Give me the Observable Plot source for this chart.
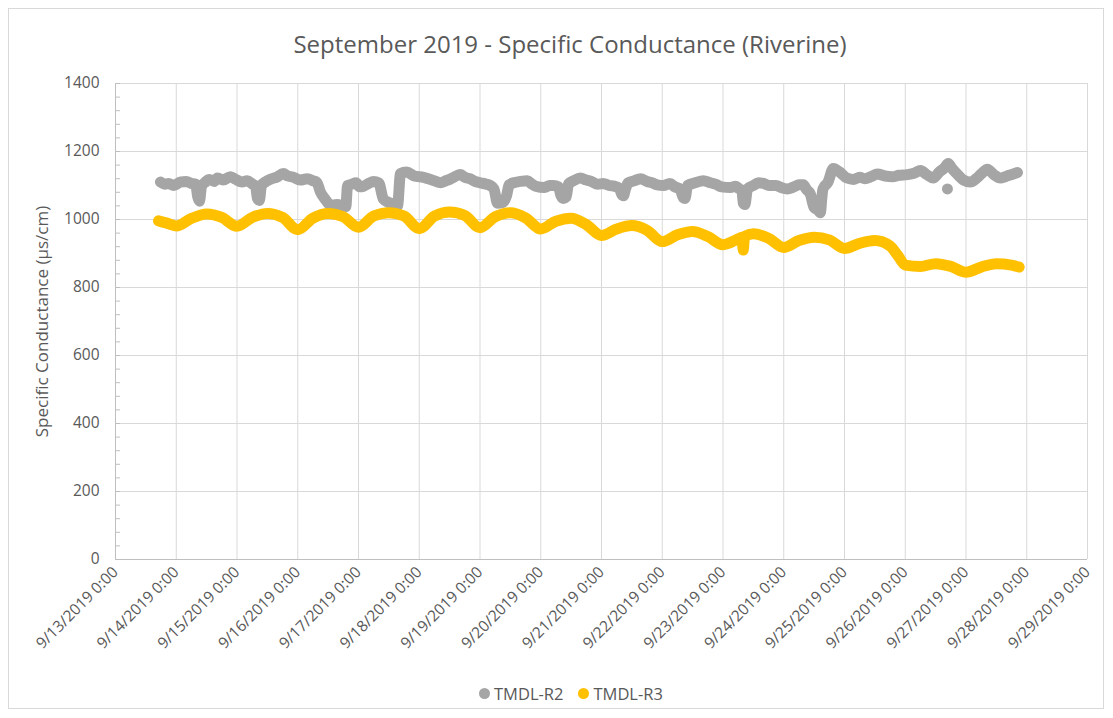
<!DOCTYPE html>
<html>
<head>
<meta charset="utf-8">
<script src="https://cdn.jsdelivr.net/npm/d3@7"></script>
<script src="https://cdn.jsdelivr.net/npm/@observablehq/plot@0.6"></script>
<style>
  body { margin: 0; background: #fff; font-family: "Open Sans", sans-serif; }
  #frame { position: absolute; left: 8px; top: 8px; width: 1096px; height: 701px; border: 1px solid #d9d9d9; box-sizing: border-box; }
  #title { position: absolute; left: 0; width: 1140px; top: 27px; text-align: center; font-size: 24px; color: #595959; }
  #chart { position: absolute; left: 0; top: 0; }
  #legend { position: absolute; left: 479px; top: 682px; display: flex; align-items: center; font-size: 16.5px; color: #595959; }
  #legend .item { display: flex; align-items: center; margin-right: 15px; }
  #legend .sw { width: 11px; height: 11px; border-radius: 50%; margin-right: 4px; }
</style>
</head>
<body>
<div id="frame"></div>
<div id="title">September 2019 - Specific Conductance (Riverine)</div>
<div id="chart"></div>
<div id="legend"></div>
<script>
const seriesNames = ["TMDL-R2", "TMDL-R3"];
const seriesColors = ["#a5a5a5", "#ffc000"];
const yLabel = "Specific Conductance (µs/cm)";
const yTicks = [0, 200, 400, 600, 800, 1000, 1200, 1400];
const xTickLabels = ["9/13/2019 0:00","9/14/2019 0:00","9/15/2019 0:00","9/16/2019 0:00","9/17/2019 0:00","9/18/2019 0:00","9/19/2019 0:00","9/20/2019 0:00","9/21/2019 0:00","9/22/2019 0:00","9/23/2019 0:00","9/24/2019 0:00","9/25/2019 0:00","9/26/2019 0:00","9/27/2019 0:00","9/28/2019 0:00","9/29/2019 0:00"];

const r2Times = ["2019-09-13T17:45","2019-09-13T19:30","2019-09-13T21:00","2019-09-13T23:00","2019-09-14T01:30","2019-09-14T04:00","2019-09-14T06:00","2019-09-14T07:40","2019-09-14T08:30","2019-09-14T09:10","2019-09-14T10:00","2019-09-14T11:30","2019-09-14T13:00","2019-09-14T15:00","2019-09-14T16:20","2019-09-14T18:30","2019-09-14T21:25","2019-09-14T23:30",
"2019-09-15T02:00","2019-09-15T04:00","2019-09-15T06:00","2019-09-15T07:20","2019-09-15T08:05","2019-09-15T08:50","2019-09-15T09:40","2019-09-15T11:30","2019-09-15T13:00","2019-09-15T15:30","2019-09-15T18:20","2019-09-15T20:00","2019-09-15T22:00",
"2019-09-16T01:00","2019-09-16T03:50","2019-09-16T06:00","2019-09-16T07:30","2019-09-16T09:00","2019-09-16T11:00","2019-09-16T13:00","2019-09-16T15:30","2019-09-16T18:00","2019-09-16T19:00","2019-09-16T19:40","2019-09-16T21:30","2019-09-16T23:00",
"2019-09-17T00:30","2019-09-17T02:00","2019-09-17T04:00","2019-09-17T05:55","2019-09-17T08:00","2019-09-17T09:50","2019-09-17T12:00","2019-09-17T14:00","2019-09-17T15:25","2019-09-17T16:35","2019-09-17T19:00","2019-09-17T22:00",
"2019-09-18T01:40","2019-09-18T04:30","2019-09-18T08:25","2019-09-18T10:30","2019-09-18T12:00","2019-09-18T14:00","2019-09-18T16:20","2019-09-18T18:00","2019-09-18T20:00","2019-09-18T22:00",
"2019-09-19T00:10","2019-09-19T02:30","2019-09-19T04:00","2019-09-19T05:30","2019-09-19T06:55","2019-09-19T09:00","2019-09-19T10:30","2019-09-19T11:30","2019-09-19T13:15","2019-09-19T16:00","2019-09-19T18:45","2019-09-19T20:30","2019-09-19T22:00",
"2019-09-20T01:30","2019-09-20T03:30","2019-09-20T05:00","2019-09-20T07:00","2019-09-20T08:00","2019-09-20T09:00","2019-09-20T10:00","2019-09-20T11:00","2019-09-20T13:00","2019-09-20T15:40","2019-09-20T18:00","2019-09-20T20:00","2019-09-20T22:30",
"2019-09-21T00:45","2019-09-21T03:00","2019-09-21T05:00","2019-09-21T07:00","2019-09-21T08:00","2019-09-21T08:40","2019-09-21T09:30","2019-09-21T10:30","2019-09-21T13:00","2019-09-21T15:25","2019-09-21T18:00","2019-09-21T20:00","2019-09-21T22:00",
"2019-09-22T00:30","2019-09-22T03:00","2019-09-22T05:00","2019-09-22T07:00","2019-09-22T08:20","2019-09-22T09:00","2019-09-22T10:00","2019-09-22T13:00","2019-09-22T16:15","2019-09-22T19:00","2019-09-22T21:00","2019-09-22T23:30",
"2019-09-23T02:55","2019-09-23T05:00","2019-09-23T06:30","2019-09-23T07:30","2019-09-23T08:00","2019-09-23T08:40","2019-09-23T09:40","2019-09-23T12:00","2019-09-23T14:00","2019-09-23T16:00","2019-09-23T18:30","2019-09-23T21:00","2019-09-23T23:00",
"2019-09-24T01:25","2019-09-24T04:00","2019-09-24T06:00","2019-09-24T07:45","2019-09-24T09:00","2019-09-24T10:30","2019-09-24T12:00","2019-09-24T13:30","2019-09-24T14:30","2019-09-24T15:00","2019-09-24T15:30","2019-09-24T17:30","2019-09-24T19:35","2019-09-24T22:00",
"2019-09-25T01:00","2019-09-25T03:30","2019-09-25T06:00","2019-09-25T08:00","2019-09-25T10:30","2019-09-25T13:00","2019-09-25T16:00","2019-09-25T19:00","2019-09-25T21:30",
"2019-09-26T00:50","2019-09-26T03:30","2019-09-26T06:00","2019-09-26T08:30","2019-09-26T11:00","2019-09-26T13:30","2019-09-26T15:30","2019-09-26T17:00","2019-09-26T18:30","2019-09-26T21:00","2019-09-26T23:00",
"2019-09-27T01:40","2019-09-27T04:00","2019-09-27T06:00","2019-09-27T08:25","2019-09-27T11:00","2019-09-27T13:35","2019-09-27T15:30","2019-09-27T17:00","2019-09-27T18:40","2019-09-27T20:20"];
const r2Values = [1110,1104,1106,1100,1110,1112,1106,1104,1066,1054,1098,1110,1118,1112,1122,1116,1126,1118,
1110,1114,1105,1098,1062,1056,1100,1112,1118,1124,1135,1128,1125,
1116,1120,1114,1110,1080,1058,1042,1044,1040,1038,1100,1104,1108,
1096,1098,1106,1112,1108,1060,1050,1044,1040,1135,1140,1128,
1124,1118,1108,1114,1118,1126,1132,1124,1120,1112,
1108,1104,1100,1090,1048,1050,1070,1102,1108,1112,1114,1104,1098,
1094,1100,1100,1096,1070,1062,1066,1105,1114,1122,1116,1112,1104,
1106,1100,1098,1092,1074,1070,1090,1108,1114,1120,1112,1108,1102,
1100,1106,1096,1090,1064,1062,1100,1108,1114,1108,1104,1096,
1094,1098,1090,1086,1048,1044,1090,1100,1108,1106,1100,1100,1094,
1090,1096,1102,1102,1088,1075,1035,1028,1020,1060,1090,1110,1150,1140,
1122,1118,1124,1120,1126,1134,1128,1126,1130,
1132,1136,1144,1132,1122,1140,1152,1165,1150,1130,1116,
1110,1120,1134,1148,1132,1122,1126,1130,1134,1138];
const r2OutlierTimes = ["2019-09-26T16:40"];
const r2OutlierValues = [1090];

const r3Times = ["2019-09-13T17:00","2019-09-13T20:00",
"2019-09-14T00:00","2019-09-14T06:00","2019-09-14T12:00","2019-09-14T18:00",
"2019-09-15T00:00","2019-09-15T06:00","2019-09-15T12:00","2019-09-15T18:00",
"2019-09-16T00:00","2019-09-16T06:00","2019-09-16T12:00","2019-09-16T18:00",
"2019-09-17T00:00","2019-09-17T06:00","2019-09-17T12:00","2019-09-17T18:00",
"2019-09-18T00:00","2019-09-18T06:00","2019-09-18T12:00","2019-09-18T18:00",
"2019-09-19T00:00","2019-09-19T06:00","2019-09-19T12:00","2019-09-19T18:00",
"2019-09-20T00:00","2019-09-20T06:00","2019-09-20T12:00","2019-09-20T18:00",
"2019-09-21T00:00","2019-09-21T06:00","2019-09-21T12:00","2019-09-21T18:00",
"2019-09-22T00:00","2019-09-22T06:00","2019-09-22T12:00","2019-09-22T18:00",
"2019-09-23T00:00","2019-09-23T06:00","2019-09-23T07:30","2019-09-23T08:00","2019-09-23T08:30","2019-09-23T12:00","2019-09-23T18:00",
"2019-09-24T00:00","2019-09-24T06:00","2019-09-24T12:00","2019-09-24T18:00",
"2019-09-25T00:00","2019-09-25T06:00","2019-09-25T12:00","2019-09-25T18:00","2019-09-25T21:00",
"2019-09-26T00:00","2019-09-26T06:00","2019-09-26T12:00","2019-09-26T18:00",
"2019-09-27T00:00","2019-09-27T06:00","2019-09-27T12:00","2019-09-27T18:00","2019-09-27T21:00"];
const r3Values = [996,990,
981,1003,1016,1006,
980,1006,1018,1006,
970,1004,1018,1008,
977,1010,1020,1010,
973,1010,1022,1012,
976,1008,1020,1005,
972,995,1004,985,
953,972,982,968,
935,955,965,950,
926,943,948,910,950,958,945,
918,938,948,940,
915,930,938,922,895,
866,862,870,862,
845,860,870,866,860];

const parseTime = d3.utcParse("%Y-%m-%dT%H:%M");
const parseTick = d3.utcParse("%m/%d/%Y %H:%M");
const xTicks = xTickLabels.map(parseTick);

const rows = [];
r2Times.forEach((t, i) => rows.push({series: seriesNames[0], time: parseTime(t), value: r2Values[i]}));
r3Times.forEach((t, i) => rows.push({series: seriesNames[1], time: parseTime(t), value: r3Values[i]}));
const outliers = r2OutlierTimes.map((t, i) => ({series: seriesNames[0], time: parseTime(t), value: r2OutlierValues[i]}));
const minorTicks = d3.range(0, 1401, 40);

const chart = Plot.plot({
  width: 1113,
  height: 660,
  marginLeft: 115,
  marginRight: 26,
  marginTop: 83,
  marginBottom: 101,
  style: {fontFamily: "Open Sans", fontSize: "15.5px", color: "#595959", background: "transparent", overflow: "visible"},
  x: {type: "utc", domain: [xTicks[0], xTicks[xTicks.length - 1]]},
  y: {domain: [0, 1400]},
  color: {domain: seriesNames, range: seriesColors},
  marks: [
    Plot.gridX(xTicks.slice(1), {stroke: "#d9d9d9", strokeOpacity: 1}),
    Plot.gridY(yTicks.slice(1), {stroke: "#d9d9d9", strokeOpacity: 1}),
    Plot.ruleX([xTicks[0]], {stroke: "#bfbfbf"}),
    Plot.ruleY([0], {stroke: "#bfbfbf"}),
    Plot.axisY(minorTicks, {tickSize: 5, dx: 5, stroke: "#bfbfbf", tickFormat: () => "", label: null}),
    Plot.axisY(yTicks, {tickSize: 0, tickPadding: 16, tickFormat: d => String(d), label: null, fill: "#595959"}),
    Plot.axisY({ticks: [], label: yLabel, labelAnchor: "center", labelArrow: "none", labelOffset: 80, fontSize: "17px", fill: "#595959"}),
    Plot.axisX(xTicks, {tickSize: 0, tickPadding: 10, tickRotate: -45, tickFormat: (d, i) => xTickLabels[i], label: null, fill: "#595959"}),
    Plot.line(rows, {x: "time", y: "value", z: "series", stroke: "series", strokeWidth: 11, curve: "monotone-x", strokeLinecap: "round", strokeLinejoin: "round"}),
    Plot.dot(outliers, {x: "time", y: "value", r: 5.5, fill: "series"})
  ]
});
document.getElementById("chart").appendChild(chart);

const legend = document.getElementById("legend");
seriesNames.forEach((name, i) => {
  const item = document.createElement("div");
  item.className = "item";
  const sw = document.createElement("span");
  sw.className = "sw";
  sw.style.background = seriesColors[i];
  item.appendChild(sw);
  item.appendChild(document.createTextNode(name));
  legend.appendChild(item);
});
</script>
</body>
</html>
